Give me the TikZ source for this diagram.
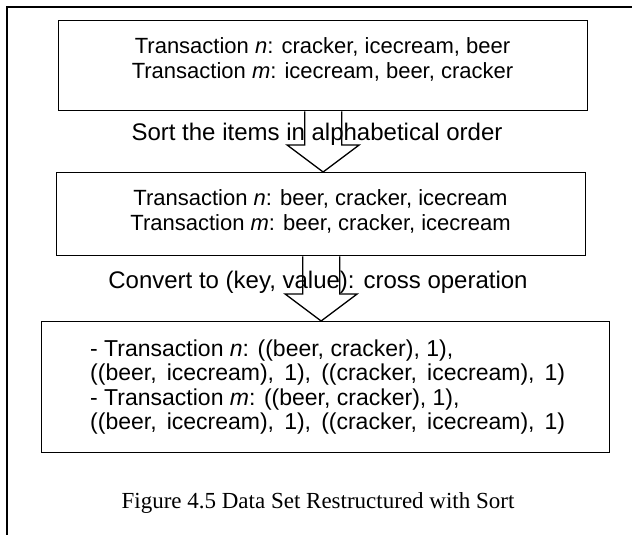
\documentclass[tikz,border=0pt]{standalone}
\usepackage{fontspec}
\setmainfont{Liberation Serif}
\newfontfamily\arialfont{Liberation Sans}
\usetikzlibrary{positioning}
\usetikzlibrary{calc}

\tikzset{
  stagebox/.style={draw, line width=1.3pt, inner sep=0pt},
  stagetext/.style={font=\arialfont\fontsize{22}{25}\selectfont, inner sep=0pt},
  pairtext/.style={font=\arialfont\fontsize{23}{24.5}\selectfont, inner sep=0pt},
  steplabel/.style={font=\arialfont\fontsize{24}{28}\selectfont, inner sep=0pt},
  blockarrow/.style={draw, line width=1.3pt, line join=miter},
}

% hollow block arrow from the bottom of one box to the top of the next
\newcommand{\stagearrow}[2]{%
  \draw[blockarrow] let \p1=(#1.south), \p2=(#2.north) in
    (\x1-18.5pt,\y1) -- (\x1-18.5pt,\y2+27pt) -- (\x1-36pt,\y2+27pt) -- (\x1,\y2)
    -- (\x1+36pt,\y2+27pt) -- (\x1+18.5pt,\y2+27pt) -- (\x1+18.5pt,\y1);}
\newcommand{\longline}[1]{\makebox[475pt][s]{#1}}

\begin{document}
\begin{tikzpicture}[x=1pt,y=-1pt]
\useasboundingbox (0,0) rectangle (632,535);

% page frame
\draw[line width=1.5pt] (7,535) -- (7,7) -- (632,7);

\node[stagebox, minimum width=529pt, minimum height=90pt, anchor=north west] (raw) at (58,20) {};
\node[stagetext, align=center] (rawtxt) at (322.5,59) {Transaction \textit{n}: cracker, icecream, beer\\Transaction \textit{m}: icecream, beer, cracker};

\node[stagebox, minimum width=529pt, minimum height=83pt, anchor=north west] (sorted) at (56,172) {};
\node[stagetext, align=center] (sortedtxt) at (320.5,211.5) {Transaction \textit{n}: beer, cracker, icecream\\Transaction \textit{m}: beer, cracker, icecream};

\node[stagebox, minimum width=568pt, minimum height=131pt, anchor=north west] (pairs) at (41,321) {};
\node[pairtext, align=left, anchor=west] (pairstxt) at (90,387) {- Transaction \textit{n}: ((beer, cracker), 1),\\\longline{((beer, icecream), 1), ((cracker, icecream), 1)}\\- Transaction \textit{m}: ((beer, cracker), 1),\\\longline{((beer, icecream), 1), ((cracker, icecream), 1)}};

\node[steplabel] (sortlbl) at (317,134) {Sort the items in alphabetical order};
\node[steplabel] (crosslbl) at (318,282) {Convert to (key, value): cross operation};

\stagearrow{raw}{sorted}
\stagearrow{sorted}{pairs}

\node[font=\fontsize{23}{27}\selectfont, inner sep=0pt] (caption) at (318,503) {Figure 4.5 Data Set Restructured with Sort};

\end{tikzpicture}
\end{document}
